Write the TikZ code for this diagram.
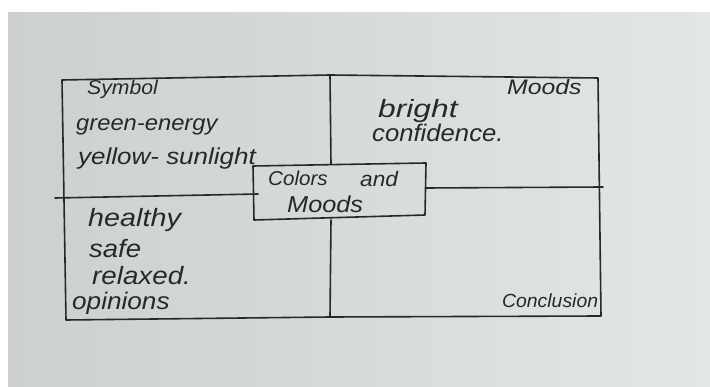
\documentclass[tikz,border=0pt]{standalone}
\usepackage{fontspec}
\usepackage{graphicx}
\setmainfont{Liberation Sans}
\newcommand{\hwx}[2]{\scalebox{#1}[1]{#2}}
\begin{document}
\begin{tikzpicture}[x=1pt,y=-1pt,
  ink/.style={draw=inkc, line width=1.6pt, line join=round, line cap=round},
  hw/.style={anchor=base west, inner sep=0pt, text=inkc, font=\itshape}]
\definecolor{paper}{RGB}{222,226,223}
\definecolor{paperdark}{RGB}{205,209,205}
\definecolor{paperlight}{RGB}{226,230,229}
\definecolor{inkc}{RGB}{38,41,39}
\useasboundingbox (0,0) rectangle (710,387);
\fill[white] (0,0) rectangle (710,387);
\shade[left color=paperdark, right color=paperlight] (8,13) rectangle (710,387);
% outer frame
\coordinate (tl) at (62,80); \coordinate (tm) at (330,75); \coordinate (tr) at (598,78);
\coordinate (br) at (601,316); \coordinate (bm) at (330,317); \coordinate (bl) at (66,320);
\draw[ink] (tl) -- (tm) -- (tr) -- (br) -- (bm) -- (bl) -- cycle;
% centre box
\coordinate (c1) at (253,166); \coordinate (c2) at (426,163);
\coordinate (c3) at (425,215); \coordinate (c4) at (254,220);
\draw[ink] (c1) -- (c2) -- (c3) -- (c4) -- cycle;
% dividers
\coordinate (vt) at (331,164); \coordinate (vb) at (331,220);
\draw[ink] (tm) -- (vt);
\draw[ink] (vb) -- (bm);
\coordinate (hl1) at (55,198); \coordinate (hl2) at (258,194);
\coordinate (hr1) at (426,188); \coordinate (hr2) at (603,187);
\draw[ink] (hl1) -- (hl2);
\draw[ink] (hr1) -- (hr2);
% texts
\node[hw, font=\itshape\fontsize{20}{20}\selectfont] (sym) at (87,95) {\hwx{1.06}{Symbol}};
\node[hw, font=\itshape\fontsize{22}{22}\selectfont] (ge) at (76,131) {\hwx{1.08}{green-energy}};
\node[hw, font=\itshape\fontsize{23}{23}\selectfont] (ys) at (78,165) {\hwx{1.13}{yellow- sunlight}};
\node[hw, font=\itshape\fontsize{20}{20}\selectfont] (col) at (268,186) {\hwx{1.03}{Colors}};
\node[hw, font=\itshape\fontsize{21}{21}\selectfont] (and) at (360,187) {\hwx{1.08}{and}};
\node[hw, font=\itshape\fontsize{23}{23}\selectfont] (mc) at (287,213) {\hwx{1.1}{Moods}};
\node[hw, font=\itshape\fontsize{21}{21}\selectfont] (mtr) at (507,95) {\hwx{1.18}{Moods}};
\node[hw, font=\itshape\fontsize{25}{25}\selectfont] (br) at (378,118) {\hwx{1.27}{bright}};
\node[hw, font=\itshape\fontsize{24}{24}\selectfont] (conf) at (372,142) {\hwx{1.07}{confidence.}};
\node[hw, font=\itshape\fontsize{25}{25}\selectfont] (he) at (88,227) {\hwx{1.15}{healthy}};
\node[hw, font=\itshape\fontsize{25}{25}\selectfont] (sa) at (89,258) {\hwx{1.1}{safe}};
\node[hw, font=\itshape\fontsize{25}{25}\selectfont] (re) at (92,285) {\hwx{1.11}{relaxed.}};
\node[hw, font=\itshape\fontsize{24}{24}\selectfont] (op) at (72,310) {\hwx{1.09}{opinions}};
\node[hw, font=\itshape\fontsize{19}{19}\selectfont] (con) at (502,308) {\hwx{1.02}{Conclusion}};
\end{tikzpicture}
\end{document}
